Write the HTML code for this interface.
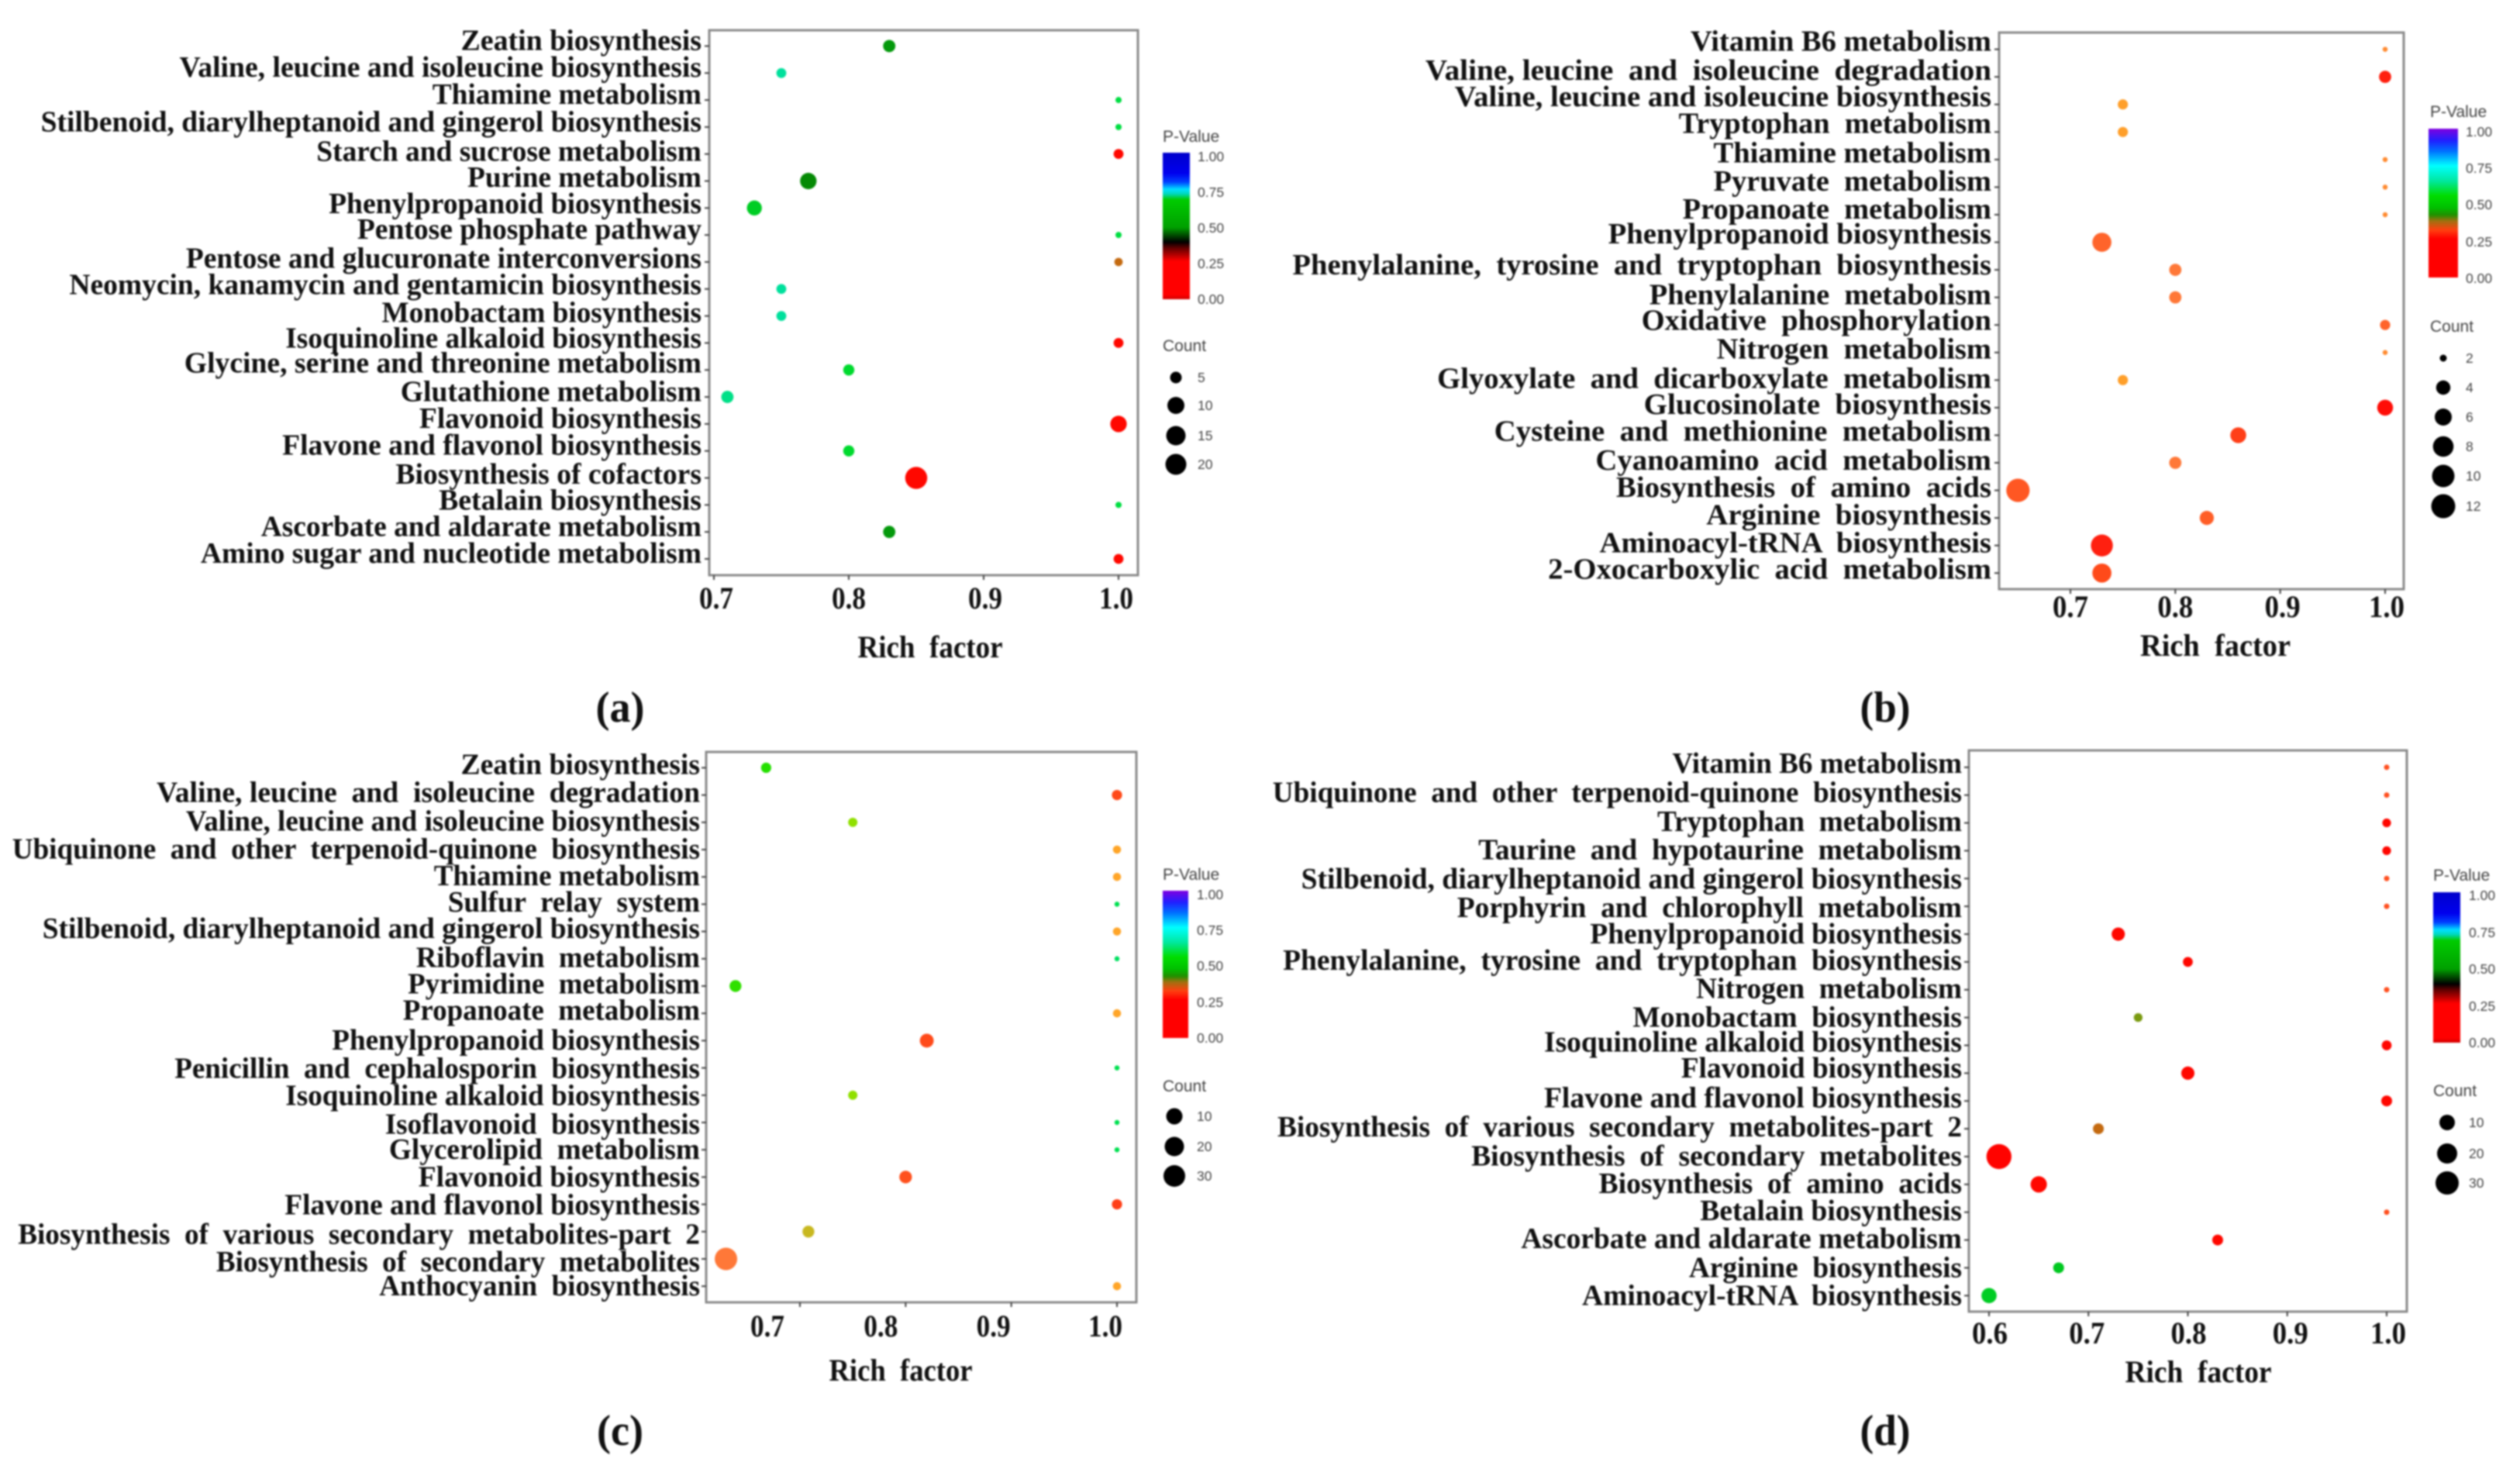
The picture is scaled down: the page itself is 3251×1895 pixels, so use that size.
<!DOCTYPE html>
<html lang="en">
<head>
<meta charset="utf-8">
<title>KEGG enrichment bubble charts</title>
<style>
html,body{margin:0;padding:0;background:#fff;}
#figure{display:block;width:3251px;height:1895px;filter:blur(1px);}
text{white-space:pre;}
.cat{font-family:"Liberation Serif",serif;font-weight:700;font-size:38px;fill:#111;}
.tick{font-family:"Liberation Serif",serif;font-weight:700;font-size:40px;fill:#111;}
.leg{font-family:"Liberation Sans",sans-serif;font-size:17.5px;fill:#444;}
.legt{font-family:"Liberation Sans",sans-serif;font-size:21px;fill:#444;}
</style>
</head>
<body>
<svg id="figure" xmlns="http://www.w3.org/2000/svg" width="3251" height="1895" viewBox="0 0 3251 1895"></svg>
<script>
/* ---------- data: panel a ---------- */
const categoriesA = ["Zeatin biosynthesis","Valine, leucine and isoleucine biosynthesis","Thiamine metabolism","Stilbenoid, diarylheptanoid and gingerol biosynthesis","Starch and sucrose metabolism","Purine metabolism","Phenylpropanoid biosynthesis","Pentose phosphate pathway","Pentose and glucuronate interconversions","Neomycin, kanamycin and gentamicin biosynthesis","Monobactam biosynthesis","Isoquinoline alkaloid biosynthesis","Glycine, serine and threonine metabolism","Glutathione metabolism","Flavonoid biosynthesis","Flavone and flavonol biosynthesis","Biosynthesis of cofactors","Betalain biosynthesis","Ascorbate and aldarate metabolism","Amino sugar and nucleotide metabolism"];
const richA = [0.83,0.75,1,1,1,0.77,0.73,1,1,0.75,0.75,1,0.8,0.71,1,0.8,0.85,1,0.83,1];
const countA = [5,3,1,1,3,10,8,1,2,3,3,3,4,5,10,4,20,1,5,3];
const pValueA = [0.47,0.7,0.6,0.6,0.1,0.46,0.52,0.6,0.33,0.7,0.7,0.1,0.57,0.68,0.1,0.57,0.1,0.6,0.47,0.1];
const ticksA = [0.7,0.8,0.9,1.0];
const tickLabelsA = ["0.7","0.8","0.9","1.0"];
const legendCountsA = [5,10,15,20];

/* ---------- data: panel b ---------- */
const categoriesB = ["Vitamin B6 metabolism","Valine, leucine  and  isoleucine  degradation","Valine, leucine and isoleucine biosynthesis","Tryptophan  metabolism","Thiamine metabolism","Pyruvate  metabolism","Propanoate  metabolism","Phenylpropanoid biosynthesis","Phenylalanine,  tyrosine  and  tryptophan  biosynthesis","Phenylalanine  metabolism","Oxidative  phosphorylation","Nitrogen  metabolism","Glyoxylate  and  dicarboxylate  metabolism","Glucosinolate  biosynthesis","Cysteine  and  methionine  metabolism","Cyanoamino  acid  metabolism","Biosynthesis  of  amino  acids","Arginine  biosynthesis","Aminoacyl-tRNA  biosynthesis","2-Oxocarboxylic  acid  metabolism"];
const richB = [1,1,0.75,0.75,1,1,1,0.73,0.8,0.8,1,1,0.75,1,0.86,0.8,0.65,0.83,0.73,0.73];
const countB = [1,4,3,3,1,1,1,8,4,4,3,1,3,6,6,4,11,5,10,8];
const pValueB = [0.3,0.12,0.33,0.33,0.3,0.3,0.3,0.24,0.27,0.27,0.24,0.3,0.33,0.05,0.18,0.27,0.22,0.23,0.12,0.2];
const ticksB = [0.7,0.8,0.9,1.0];
const tickLabelsB = ["0.7","0.8","0.9","1.0"];
const legendCountsB = [2,4,6,8,10,12];

/* ---------- data: panel c ---------- */
const categoriesC = ["Zeatin biosynthesis","Valine, leucine  and  isoleucine  degradation","Valine, leucine and isoleucine biosynthesis","Ubiquinone  and  other  terpenoid-quinone  biosynthesis","Thiamine metabolism","Sulfur  relay  system","Stilbenoid, diarylheptanoid and gingerol biosynthesis","Riboflavin  metabolism","Pyrimidine  metabolism","Propanoate  metabolism","Phenylpropanoid biosynthesis","Penicillin  and  cephalosporin  biosynthesis","Isoquinoline alkaloid biosynthesis","Isoflavonoid  biosynthesis","Glycerolipid  metabolism","Flavonoid biosynthesis","Flavone and flavonol biosynthesis","Biosynthesis  of  various  secondary  metabolites-part  2","Biosynthesis  of  secondary  metabolites","Anthocyanin  biosynthesis"];
const richC = [0.668,1,0.75,1,1,1,1,1,0.639,1,0.82,1,0.75,1,1,0.8,1,0.708,0.63,1];
const countC = [5,5,4,3,3,1,3,1,7,3,10,1,4,1,1,8,5,7,30,3];
const pValueC = [0.47,0.2,0.41,0.34,0.34,0.55,0.34,0.57,0.46,0.34,0.2,0.55,0.41,0.55,0.55,0.21,0.18,0.38,0.27,0.34];
const ticksC = [0.7,0.8,0.9,1.0];
const tickLabelsC = ["0.7","0.8","0.9","1.0"];
const legendCountsC = [10,20,30];

/* ---------- data: panel d ---------- */
const categoriesD = ["Vitamin B6 metabolism","Ubiquinone  and  other  terpenoid-quinone  biosynthesis","Tryptophan  metabolism","Taurine  and  hypotaurine  metabolism","Stilbenoid, diarylheptanoid and gingerol biosynthesis","Porphyrin  and  chlorophyll  metabolism","Phenylpropanoid biosynthesis","Phenylalanine,  tyrosine  and  tryptophan  biosynthesis","Nitrogen  metabolism","Monobactam  biosynthesis","Isoquinoline alkaloid biosynthesis","Flavonoid biosynthesis","Flavone and flavonol biosynthesis","Biosynthesis  of  various  secondary  metabolites-part  2","Biosynthesis  of  secondary  metabolites","Biosynthesis  of  amino  acids","Betalain biosynthesis","Ascorbate and aldarate metabolism","Arginine  biosynthesis","Aminoacyl-tRNA  biosynthesis"];
const richD = [1,1,1,1,1,1,0.73,0.8,1,0.75,1,0.8,1,0.71,0.61,0.65,1,0.83,0.67,0.6];
const countD = [1,1,3,3,1,1,8,4,1,3,4,8,5,5,35,13,1,5,5,11];
const pValueD = [0.24,0.24,0.08,0.08,0.24,0.24,0.08,0.08,0.24,0.39,0.08,0.08,0.08,0.33,0.04,0.1,0.24,0.1,0.5,0.52];
const ticksD = [0.6,0.7,0.8,0.9,1.0];
const tickLabelsD = ["0.6","0.7","0.8","0.9","1.0"];
const legendCountsD = [10,20,30];

/* ---------- shared legend values ---------- */
const colorbarTicks = [1.0,0.75,0.5,0.25,0.0];
const colorbarLabels = ["1.00","0.75","0.50","0.25","0.00"];

/* ---------- colour ramps ---------- */
const rampDotsAD = [[0,"#ff0000"],[0.12,"#ff0a00"],[0.24,"#ff5020"],[0.33,"#c46a10"],[0.39,"#7a9a10"],[0.46,"#058a05"],[0.5,"#00c820"],[0.58,"#00dd30"],[0.68,"#00e088"],[0.72,"#00e0b0"],[0.8,"#0060ff"],[1,"#0000cc"]];
const rampDotsBC = [[0,"#ff0000"],[0.12,"#ff2010"],[0.2,"#ff4a1a"],[0.27,"#ff7838"],[0.34,"#ffa528"],[0.38,"#c8b820"],[0.41,"#90e000"],[0.46,"#30e000"],[0.5,"#00e000"],[0.55,"#00e050"],[0.65,"#00e0a0"],[0.75,"#00ffff"],[0.87,"#0060ff"],[1,"#7000ff"]];
const rampBarAD = [[0,"#d00000"],[0.03,"#ff0000"],[0.26,"#ff0000"],[0.35,"#600000"],[0.39,"#000000"],[0.45,"#006000"],[0.49,"#00a000"],[0.68,"#00cc00"],[0.72,"#00d8c0"],[0.75,"#00e0ff"],[0.8,"#0040ff"],[0.86,"#0000ee"],[1,"#0000cc"]];
const rampBarBC = [[0,"#ff0000"],[0.26,"#ff0000"],[0.32,"#ff4010"],[0.38,"#a07010"],[0.42,"#209000"],[0.47,"#00c000"],[0.55,"#00dd00"],[0.65,"#00e8a0"],[0.75,"#00ffff"],[0.85,"#0070ff"],[0.92,"#2020ff"],[1,"#8000e0"]];

/* ---------- layout: text extents (separate from data) ---------- */
const layoutLabelLeftA = [565,220,530,50,388,573,403,438,228,85,468,350,226,491,514,346,485,538,320,246];
const layoutLabelMidA = [88,145,203,262,324,380,436,490,552,608,668,722,775,836,893,950,1012,1067,1123,1180];
const layoutLabelLeftB = [520,185,222,505,549,549,510,416,17,468,458,553,200,461,272,400,426,540,405,340];
const layoutLabelMidB = [90,152,208,265,328,388,447,500,566,630,684,745,808,863,920,982,1040,1098,1158,1214];
const layoutLabelLeftC = [565,192,228,15,532,549,52,510,500,494,407,214,350,472,477,513,349,22,265,465];
const layoutLabelMidC = [62,122,183,243,300,357,413,475,532,588,652,713,771,832,886,945,1005,1068,1127,1178];
const layoutLabelLeftD = [497,-8,478,252,28,225,393,5,527,447,335,508,335,-2,243,404,532,306,518,383];
const layoutLabelMidD = [60,122,184,245,307,368,425,481,542,603,656,712,776,838,900,959,1017,1077,1139,1199];

const panels = [
 {id:"a",cats:categoriesA,rich:richA,count:countA,p:pValueA,ticks:ticksA,tickLabels:tickLabelsA,tickDx:[3,0,2,-3],
  box:[915,39,1468,742],x0:[0.7,921],x1:[1,1443],rowTop:59.4,rowStep:34.82,sizeA:8,sizeB:0.424,
  dotRamp:rampDotsAD,barRamp:rampBarAD,
  labelLeft:layoutLabelLeftA,labelMid:layoutLabelMidA,labelRight:905,ox:0,oy:0,sx:1.0523,sy:0.6059,
  tickLabelY:772,tickLabelW:44,rich_x:1200,rich_y:835,rich_w:187,cap_x:800,cap_y:915,cap_w:63,
  bar:[1500,197,1535,386],barTickY:[202,248,294,340,386],barLabelX:1545,titleY:175,titleX:1500,
  countTitleY:445,legendCounts:legendCountsA,legendX:1517,legendY:[487,523,562,599],legendD:[15,22,25,27],legendLabelX:1545},
 {id:"b",cats:categoriesB,rich:richB,count:countB,p:pValueB,ticks:ticksB,tickLabels:tickLabelsB,tickDx:[0,0,3,2],
  box:[2579,42,3101,760],x0:[0.7,2671],x1:[1,3077],rowTop:63.6,rowStep:35.56,sizeA:6.5,sizeB:0.64,
  dotRamp:rampDotsBC,barRamp:rampBarBC,
  labelLeft:layoutLabelLeftB,labelMid:layoutLabelMidB,labelRight:2569,ox:1650,oy:0,sx:1.021,sy:0.6059,
  tickLabelY:783,tickLabelW:46,rich_x:2858,rich_y:833,rich_w:194,cap_x:2432,cap_y:915,cap_w:65,
  bar:[3133,166,3171,358],barTickY:[170,217,264,312,359],barLabelX:3181,titleY:143,titleX:3135,
  countTitleY:420,legendCounts:legendCountsB,legendX:3152,legendY:[462,500,538,576,614,653],legendD:[9,18.5,22,26.6,29,31],legendLabelX:3181},
 {id:"c",cats:categoriesC,rich:richC,count:countC,p:pValueC,ticks:ticksC,tickLabels:tickLabelsC,tickDx:[-42,-32,-23,-15],
  box:[911,970,1466,1680],x0:[0.7,1032],x1:[1,1441],rowTop:990.4,rowStep:35.2,sizeA:6.5,sizeB:0.44,
  dotRamp:rampDotsBC,barRamp:rampBarBC,
  labelLeft:layoutLabelLeftC,labelMid:layoutLabelMidC,labelRight:903,ox:0,oy:950,sx:1.0523,sy:0.6027,
  tickLabelY:1711,tickLabelW:44,rich_x:1162,rich_y:1768,rich_w:185,cap_x:800,cap_y:1848,cap_w:60,
  bar:[1500,1149,1533,1339],barTickY:[1154,1200,1246,1293,1339],barLabelX:1544,titleY:1127,titleX:1500,
  countTitleY:1400,legendCounts:legendCountsC,legendX:1515,legendY:[1440,1479,1517],legendD:[21,25,28],legendLabelX:1544},
 {id:"d",cats:categoriesD,rich:richD,count:countD,p:pValueD,ticks:ticksD,tickLabels:tickLabelsD,tickDx:[1,-2,1,4,2],
  box:[2540,968,3105,1692],x0:[0.6,2566],x1:[1,3079],rowTop:989.8,rowStep:35.87,sizeA:7,sizeB:0.43,
  dotRamp:rampDotsAD,barRamp:rampBarAD,
  labelLeft:layoutLabelLeftD,labelMid:layoutLabelMidD,labelRight:2531,ox:1650,oy:950,sx:1.021,sy:0.6027,
  tickLabelY:1720,tickLabelW:46,rich_x:2836,rich_y:1770,rich_w:189,cap_x:2432,cap_y:1848,cap_w:65,
  bar:[3139,1151,3174,1345],barTickY:[1155,1203,1250,1298,1345],barLabelX:3185,titleY:1128,titleX:3139,
  countTitleY:1406,legendCounts:legendCountsD,legendX:3157,legendY:[1448,1488,1526],legendD:[20,26,30],legendLabelX:3185}
];

const SVGNS = "http://www.w3.org/2000/svg";
const svg = document.getElementById("figure");
const defs = document.createElementNS(SVGNS,"defs");
svg.appendChild(defs);

function make(tag, parent, attrs, text){
  const el = document.createElementNS(SVGNS, tag);
  for (const k in attrs) el.setAttribute(k, attrs[k]);
  if (text !== undefined) el.textContent = text;
  parent.appendChild(el);
  return el;
}
function hex(c){return [parseInt(c.slice(1,3),16),parseInt(c.slice(3,5),16),parseInt(c.slice(5,7),16)];}
function colorFor(ramp, p){
  for (let i=1;i<ramp.length;i++){
    if (p<=ramp[i][0]){
      const t=(p-ramp[i-1][0])/(ramp[i][0]-ramp[i-1][0]);
      const a=hex(ramp[i-1][1]), b=hex(ramp[i][1]);
      return "rgb("+a.map((v,j)=>Math.round(v+(b[j]-v)*t)).join(",")+")";
    }
  }
  return ramp[ramp.length-1][1];
}

panels.forEach(function(P){
  const xScale = v => P.x0[1] + (v-P.x0[0])*(P.x1[1]-P.x0[1])/(P.x1[0]-P.x0[0]);
  const yScale = i => P.rowTop + i*P.rowStep;
  const sizeScale = c => P.sizeA*Math.pow(c,P.sizeB);

  const g = make("g",svg,{});
  
  

  const frame = make("rect",g,{x:P.box[0],y:P.box[1],width:P.box[2]-P.box[0],height:P.box[3]-P.box[1],fill:"#fff",stroke:"#8a8a8a","stroke-width":3});
  
  

  /* category labels and y ticks */
  P.cats.forEach(function(name,i){
    const left = P.ox + P.labelLeft[i]*P.sx;
    const mid = P.oy + P.labelMid[i]*P.sy;
    const label = make("text",g,{class:"cat",x:P.labelRight,y:mid+11,"text-anchor":"end",textLength:(P.labelRight-left).toFixed(1),lengthAdjust:"spacingAndGlyphs"},name);
    
    
    const tick = make("line",g,{x1:P.box[0]-6,x2:P.box[0],y1:yScale(i),y2:yScale(i),stroke:"#444","stroke-width":2});
    
    
  });

  /* x ticks */
  P.ticks.forEach(function(v,i){
    const x = xScale(v);
    const tick = make("line",g,{x1:x,x2:x,y1:P.box[3],y2:P.box[3]+6,stroke:"#444","stroke-width":2});
    
    
    const label = make("text",g,{class:"tick",x:x+P.tickDx[i],y:P.tickLabelY+13,"text-anchor":"middle",textLength:P.tickLabelW,lengthAdjust:"spacingAndGlyphs"},P.tickLabels[i]);
    
    
  });

  /* points */
  P.rich.forEach(function(v,i){
    const dot = make("circle",g,{cx:xScale(v),cy:yScale(i),r:sizeScale(P.count[i])/2,fill:colorFor(P.dotRamp,P.p[i])});
    
    
  });

  /* axis title & caption */
  const xt = make("text",g,{class:"tick",x:P.rich_x,y:P.rich_y+13,"text-anchor":"middle",textLength:P.rich_w,lengthAdjust:"spacingAndGlyphs"},"Rich  factor");
  
  
  const cap = make("text",g,{class:"tick",style:"font-size:56px",x:P.cap_x,y:P.cap_y+16,"text-anchor":"middle",textLength:P.cap_w,lengthAdjust:"spacingAndGlyphs"},"("+P.id+")");
  
  

  /* colour bar */
  const grad = make("linearGradient",defs,{id:"bar-"+P.id,x1:0,y1:1,x2:0,y2:0});
  P.barRamp.forEach(s=>make("stop",grad,{offset:s[0],"stop-color":s[1]}));
  const tl = make("text",g,{class:"legt",x:P.titleX,y:P.titleY+8},"P-Value");
  
  
  const bar = make("rect",g,{x:P.bar[0],y:P.bar[1],width:P.bar[2]-P.bar[0],height:P.bar[3]-P.bar[1],fill:"url(#bar-"+P.id+")"});
  
  
  colorbarLabels.forEach(function(txt,i){
    const t = make("text",g,{class:"leg",x:P.barLabelX,y:P.barTickY[i]+6},txt);
    
    
  });

  /* size legend */
  const ct = make("text",g,{class:"legt",x:P.titleX,y:P.countTitleY+8},"Count");
  
  
  P.legendCounts.forEach(function(c,i){
    const dot = make("circle",g,{cx:P.legendX,cy:P.legendY[i],r:P.legendD[i]/2,fill:"#000"});
    
    
    const t = make("text",g,{class:"leg",x:P.legendLabelX,y:P.legendY[i]+6},String(c));
    
    
  });
});
</script>
</body>
</html>
